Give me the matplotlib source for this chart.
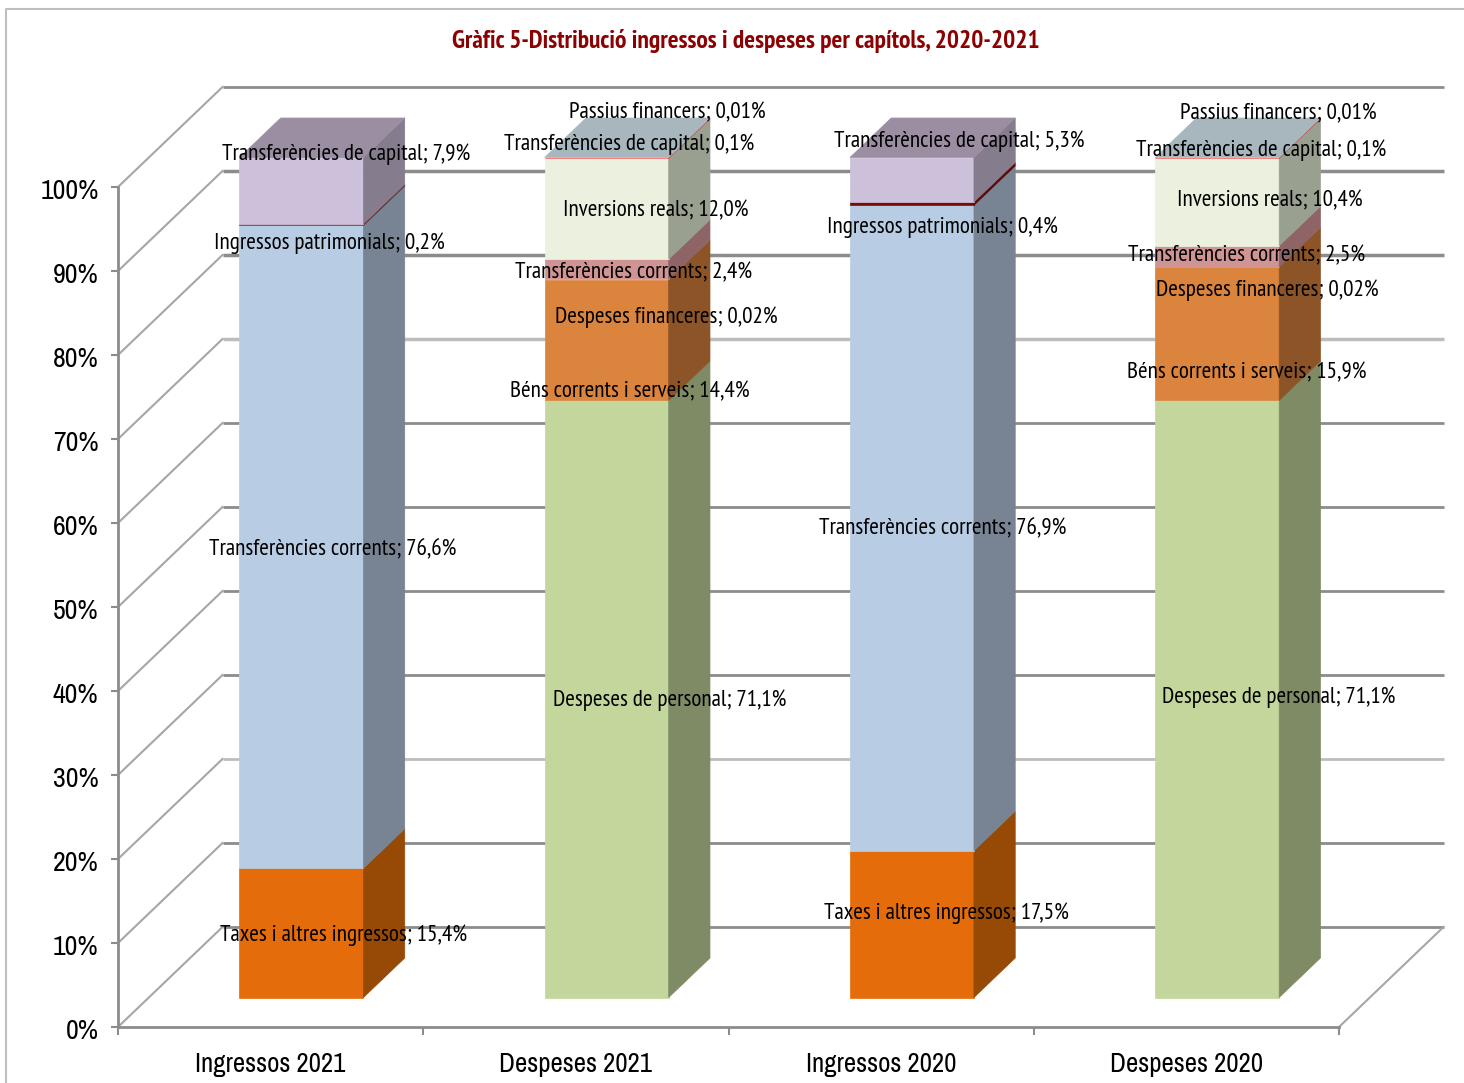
import matplotlib
matplotlib.use("Agg")
import matplotlib.pyplot as plt
from matplotlib.patches import Polygon
from matplotlib.lines import Line2D
from matplotlib.transforms import ScaledTranslation

W, H = 1464, 1083
label_font = ['PT Sans Narrow', 'Carlito', 'Lato', 'DejaVu Sans']
axis_font = ['Archivo Narrow', 'Liberation Sans', 'DejaVu Sans']
plt.rcParams['font.family'] = label_font

categories = ["Ingressos 2021", "Despeses 2021", "Ingressos 2020", "Despeses 2020"]
title = "Gràfic 5-Distribució ingressos i despeses per capítols, 2020-2021"

names_ing = ["Taxes i altres ingressos", "Transferències corrents",
             "Ingressos patrimonials", "Transferències de capital"]
names_des = ["Despeses de personal", "Béns corrents i serveis", "Despeses financeres",
             "Transferències corrents", "Inversions reals", "Transferències de capital",
             "Passius financers"]

ing_2021 = [15.4, 76.6, 0.2, 7.9]
des_2021 = [71.1, 14.4, 0.02, 2.4, 12.0, 0.1, 0.01]
ing_2020 = [17.5, 76.9, 0.4, 5.3]
des_2020 = [71.1, 15.9, 0.02, 2.5, 10.4, 0.1, 0.01]
text_2021 = ["15,4%", "76,6%", "0,2%", "7,9%"]
text_d21 = ["71,1%", "14,4%", "0,02%", "2,4%", "12,0%", "0,1%", "0,01%"]
text_2020 = ["17,5%", "76,9%", "0,4%", "5,3%"]
text_d20 = ["71,1%", "15,9%", "0,02%", "2,5%", "10,4%", "0,1%", "0,01%"]

bars = [(names_ing, ing_2021, text_2021), (names_des, des_2021, text_d21),
        (names_ing, ing_2020, text_2020), (names_des, des_2020, text_d20)]

# front colour, side colour
col_ing = [("#E46C0A", "#964A06"), ("#B8CCE4", "#788494"), ("#953735", "#6E2A2A"), ("#CCC0DA", "#857D8E")]
col_ing20 = [("#E46C0A", "#964A06"), ("#B8CCE4", "#788494"), ("#7A0A0A", "#5A0808"), ("#CCC0DA", "#857D8E")]
col_des = [("#C3D69B", "#7F8B65"), ("#DB843D", "#8C5427"), ("#DB843D", "#8C5427"), ("#D09494", "#8E6466"),
           ("#EBF1DE", "#99A090"), ("#FF5050", "#C05050"), ("#B8CCE4", "#99A090")]
colors = [col_ing, col_des, col_ing20, col_des]
top_colors = ["#9B8EA2", "#A8B7BE", "#9B8EA2", "#A8B7BE"]

# label centres in pixels, hand placed like in the original chart
label_pos = [
    [(344, 935), (333, 550), (329, 243), (346, 154)],
    [(670, 700), (630, 392), (666, 317), (634, 273), (656, 211), (629, 144), (667, 113)],
    [(946, 913), (943, 529), (942, 227), (959, 141)],
    [(1279, 697), (1247, 373), (1267, 290), (1247, 256), (1270, 201), (1261, 150), (1278, 114)],
]

fig = plt.figure(figsize=(W / 100, H / 100), dpi=100)
ax = fig.add_axes([118 / W, 1 - 1027 / H, (1339 - 118) / W, (1027 - 187) / H])
ax.set_xlim(0, 4)
ax.set_ylim(0, 100)
ax.patch.set_alpha(0)

px_x = 4 / (1339 - 118)
px_y = 100 / (1027 - 187)
wall_dx = 104.5 * px_x
wall_dy = 100 * px_y
grey = "#8C8C8C"

# chart area frame
fig.add_artist(Line2D([6 / W, 6 / W, 1], [0, 1 - 9 / H, 1 - 9 / H], color="#BFBFBF", lw=1.5))

# walls: left diagonals, back lines
ticks = list(range(0, 101, 10))
for t in ticks:
    ax.plot([0, wall_dx], [t, t + wall_dy], color="#A6A6A6", lw=1.5, clip_on=False, zorder=1)
    lw = 2.5 if t in (70, 80, 90) else 2
    c = "#BDBDBD" if t in (20, 70) else grey
    ax.plot([wall_dx, 4 + wall_dx], [t + wall_dy, t + wall_dy], color=c, lw=lw, clip_on=False, zorder=1,
            solid_capstyle="butt")
ax.plot([4, 4 + wall_dx], [0, wall_dy], color="#A6A6A6", lw=1.5, clip_on=False, zorder=1)

# bars
depth_front = 0.295
depth_bar = 0.395
bar_w = 124 * px_x
for i, (names, vals, txts) in enumerate(bars):
    total = sum(vals)
    x0 = i + 0.5 - bar_w / 2 + depth_front * wall_dx
    x1 = x0 + bar_w
    y_base = depth_front * wall_dy
    sdx = depth_bar * wall_dx
    sdy = depth_bar * wall_dy
    cum = 0
    for v, (front, side) in zip(vals, colors[i]):
        yb = y_base + cum / total * 100
        cum += v
        yt = y_base + cum / total * 100
        if v < 0.05:  # too thin to show, would only hide its neighbour
            continue
        ax.add_patch(Polygon([(x0, yb), (x1, yb), (x1, yt), (x0, yt)], closed=True, fc=front,
                             ec=front, lw=0.5, clip_on=False, zorder=3))
        ax.add_patch(Polygon([(x1, yb), (x1 + sdx, yb + sdy), (x1 + sdx, yt + sdy), (x1, yt)], closed=True,
                             fc=side, ec=side, lw=0.5, clip_on=False, zorder=3))
    ytop = y_base + 100
    ax.add_patch(Polygon([(x0, ytop), (x1, ytop), (x1 + sdx, ytop + sdy), (x0 + sdx, ytop + sdy)], closed=True,
                         fc=top_colors[i], ec=top_colors[i], lw=0.5, clip_on=False, zorder=3))
    for n, t, (px, py) in zip(names, txts, label_pos[i]):
        fig.text(px / W, 1 - py / H, n + "; " + t, ha="center", va="center", fontsize=16.7,
                 color="black", zorder=6)

# axes
for s in ["top", "right"]:
    ax.spines[s].set_visible(False)
for s in ["left", "bottom"]:
    ax.spines[s].set_color(grey)
    ax.spines[s].set_linewidth(2)
ax.set_yticks(ticks)
ax.set_yticklabels([str(t) + "%" for t in ticks], fontsize=20, color="black", family=axis_font)
ax.set_xticks(range(5))
ax.set_xticklabels([])
ax.set_xticks([i + 0.5 for i in range(4)], minor=True)
ax.set_xticklabels(categories, minor=True, fontsize=19.3, color="black", family=axis_font)
ax.tick_params(axis="y", length=5, width=1.5, color=grey, pad=9)
ax.tick_params(axis="x", which="major", length=6, width=1.5, color=grey)
ax.tick_params(axis="x", which="minor", length=0, pad=18)
# tick labels sit a little under their ticks in the original
for lab in ax.get_yticklabels():
    lab.set_transform(lab.get_transform() + ScaledTranslation(0, -2 / 100, fig.dpi_scale_trans))

fig.text(746 / W, 1 - 41 / H, title, ha="center", va="center", fontsize=18.4, fontweight="bold", color="#8B0000")

fig.savefig("out.png", dpi=100)
